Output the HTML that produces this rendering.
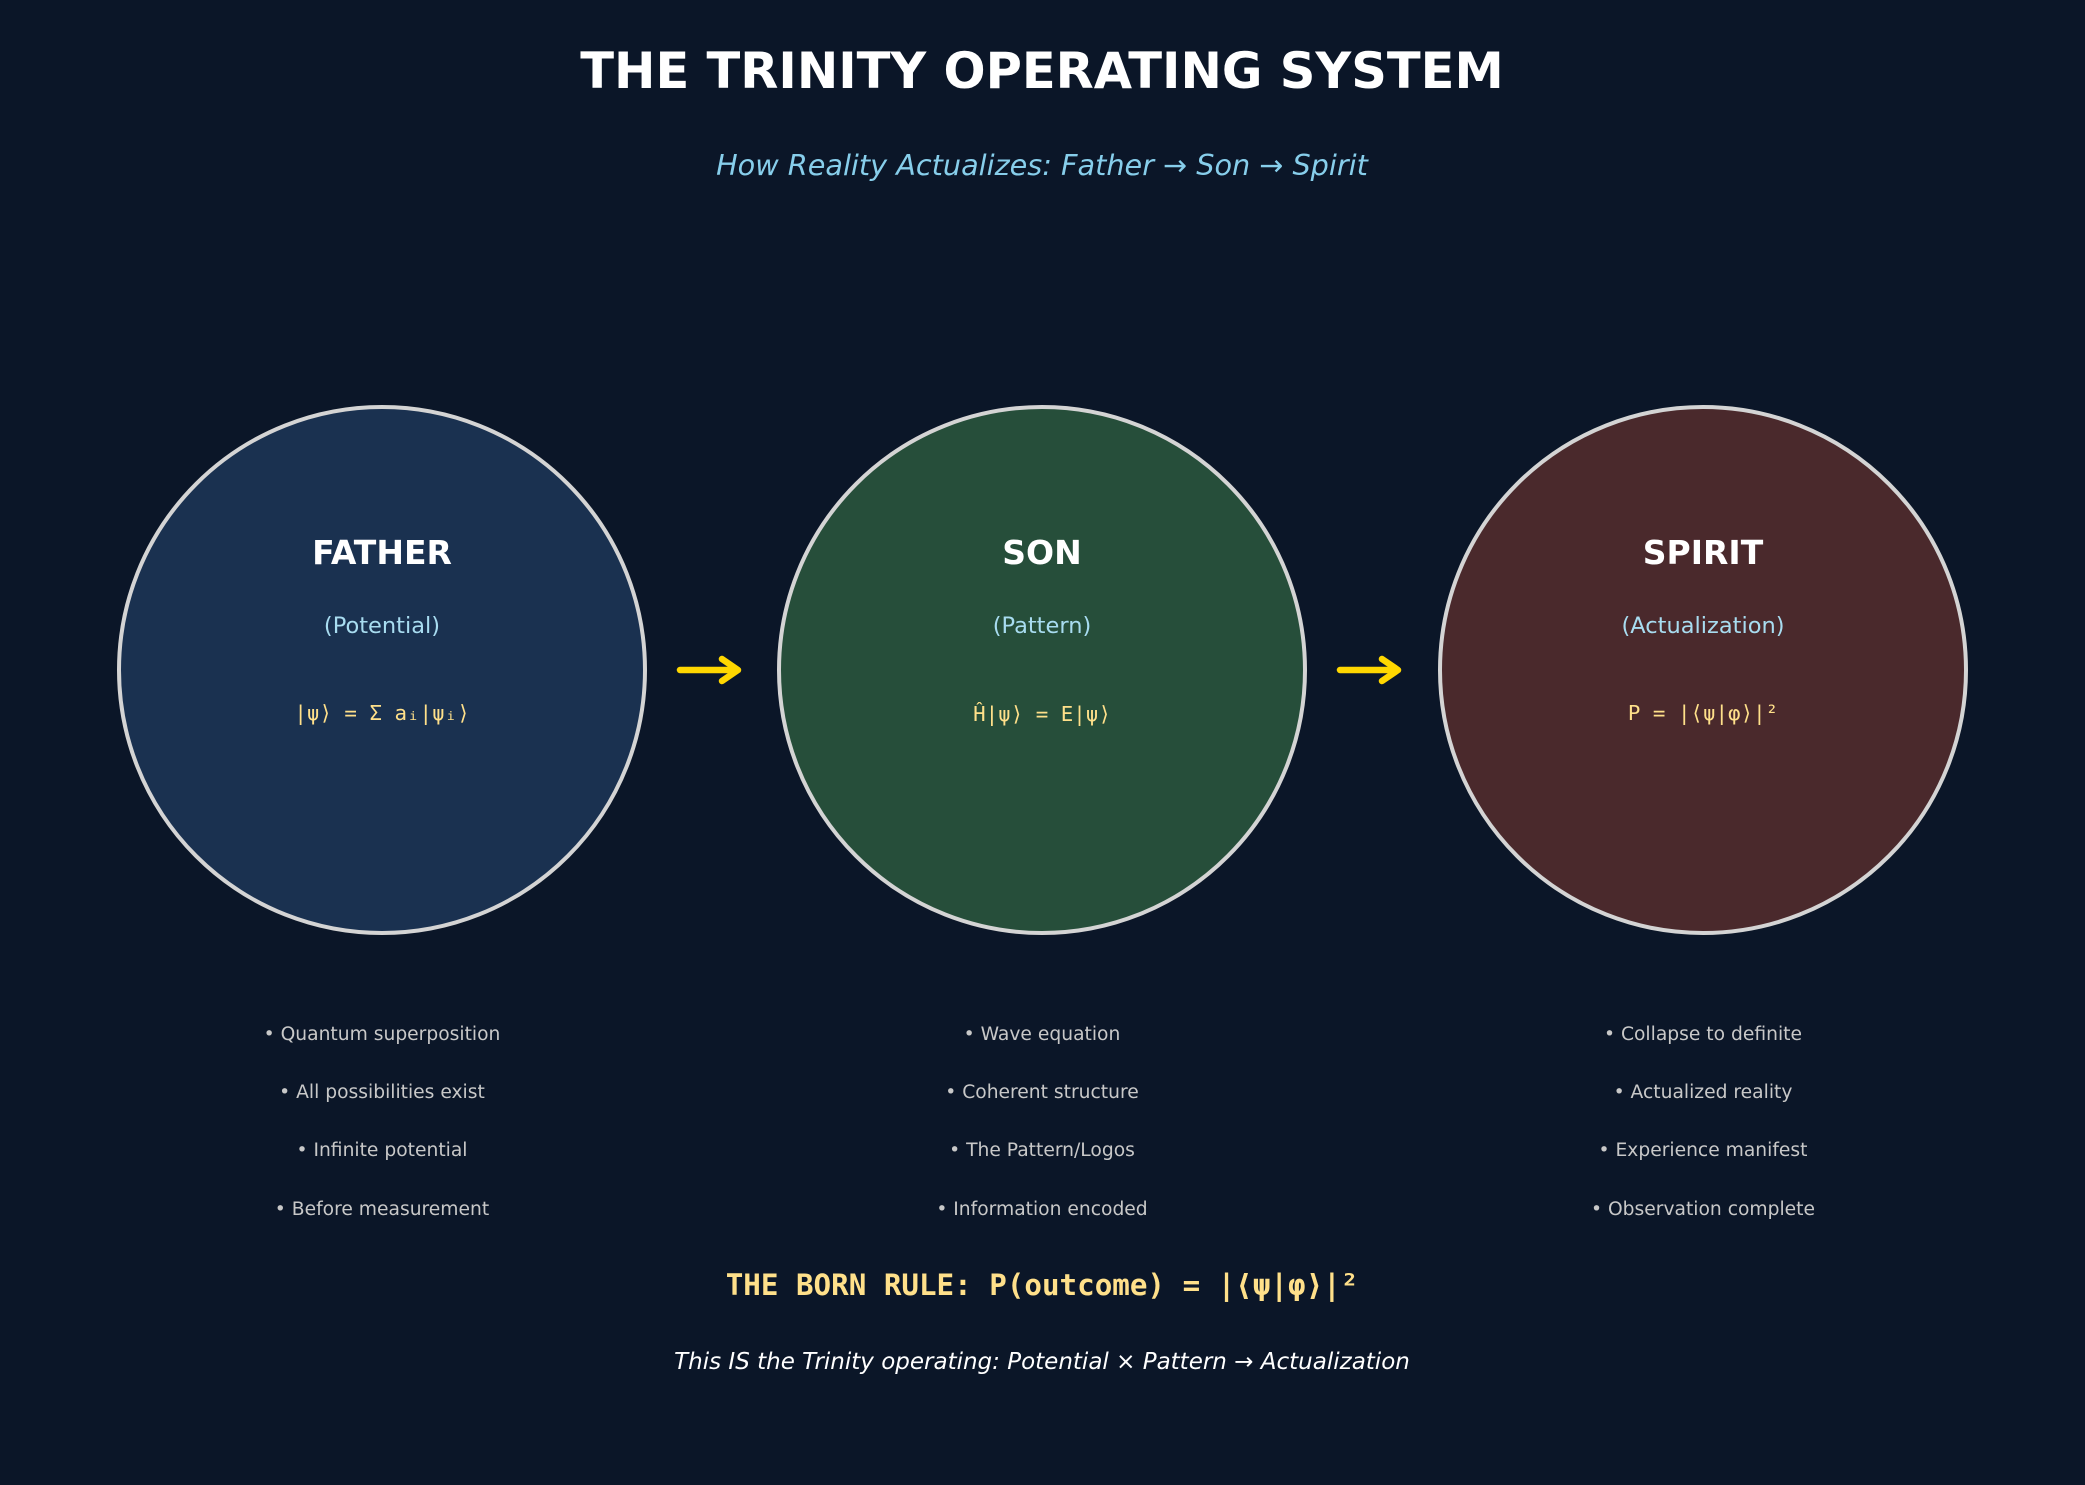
<!DOCTYPE html>
<html><head><style>
html,body{margin:0;padding:0;background:#0b1628;}
svg{display:block;}
</style></head><body>
<svg width="2085" height="1485" viewBox="0 0 2085 1485" xmlns="http://www.w3.org/2000/svg">
<rect width="2085" height="1485" fill="#0b1628"/>
<g font-family="'DejaVu Sans','Liberation Sans',sans-serif" text-anchor="middle">
<text x="1042" y="88" font-size="49.5" font-weight="bold" fill="#ffffff">THE TRINITY OPERATING SYSTEM</text>
<text x="1042" y="175" font-size="28.7" font-style="italic" fill="#87ceeb">How Reality Actualizes: Father → Son → Spirit</text>

<circle cx="382" cy="670" r="263" fill="#1a3150" stroke="#d4d4d4" stroke-width="4"/>
<circle cx="1042" cy="670" r="263" fill="#264e3a" stroke="#d4d4d4" stroke-width="4"/>
<circle cx="1703" cy="670" r="263" fill="#4a292c" stroke="#d4d4d4" stroke-width="4"/>

<g stroke="#ffd700" stroke-width="6.5" fill="none" stroke-linecap="round" stroke-linejoin="round">
<line x1="680" y1="670" x2="736" y2="670"/><polyline points="722,659 738,670 722,681"/>
<line x1="1340" y1="670" x2="1396" y2="670"/><polyline points="1382,659 1398,670 1382,681"/>
</g>

<g font-size="33" font-weight="bold" fill="#ffffff">
<text x="382" y="564">FATHER</text><text x="1042" y="564">SON</text><text x="1703" y="564">SPIRIT</text>
</g>
<g font-size="22.5" fill="#a8dcf0">
<text x="382" y="633">(Potential)</text><text x="1042" y="633">(Pattern)</text><text x="1703" y="633">(Actualization)</text>
</g>
<g font-family="'DejaVu Sans Mono','Liberation Mono',monospace" font-size="20.8" fill="#ffe08a">
<text x="382" y="720">|ψ⟩ = Σ aᵢ|ψᵢ⟩</text><text x="1042" y="721">Ĥ|ψ⟩ = E|ψ⟩</text><text x="1703" y="720">P = |⟨ψ|φ⟩|²</text>
</g>
<g font-size="18.7" fill="#c8c8c8">
<text x="382" y="1040">• Quantum superposition</text>
<text x="382" y="1098">• All possibilities exist</text>
<text x="382" y="1156">• Infinite potential</text>
<text x="382" y="1215">• Before measurement</text>
<text x="1042" y="1040">• Wave equation</text>
<text x="1042" y="1098">• Coherent structure</text>
<text x="1042" y="1156">• The Pattern/Logos</text>
<text x="1042" y="1215">• Information encoded</text>
<text x="1703" y="1040">• Collapse to definite</text>
<text x="1703" y="1098">• Actualized reality</text>
<text x="1703" y="1156">• Experience manifest</text>
<text x="1703" y="1215">• Observation complete</text>
</g>
<text x="1042" y="1295" font-family="'DejaVu Sans Mono','Liberation Mono',monospace" font-size="29.2" font-weight="bold" fill="#ffe08a">THE BORN RULE: P(outcome) = |⟨ψ|φ⟩|²</text>
<text x="1042" y="1369" font-size="23" font-style="italic" fill="#ffffff">This IS the Trinity operating: Potential × Pattern → Actualization</text>
</g>
</svg>
</body></html>
